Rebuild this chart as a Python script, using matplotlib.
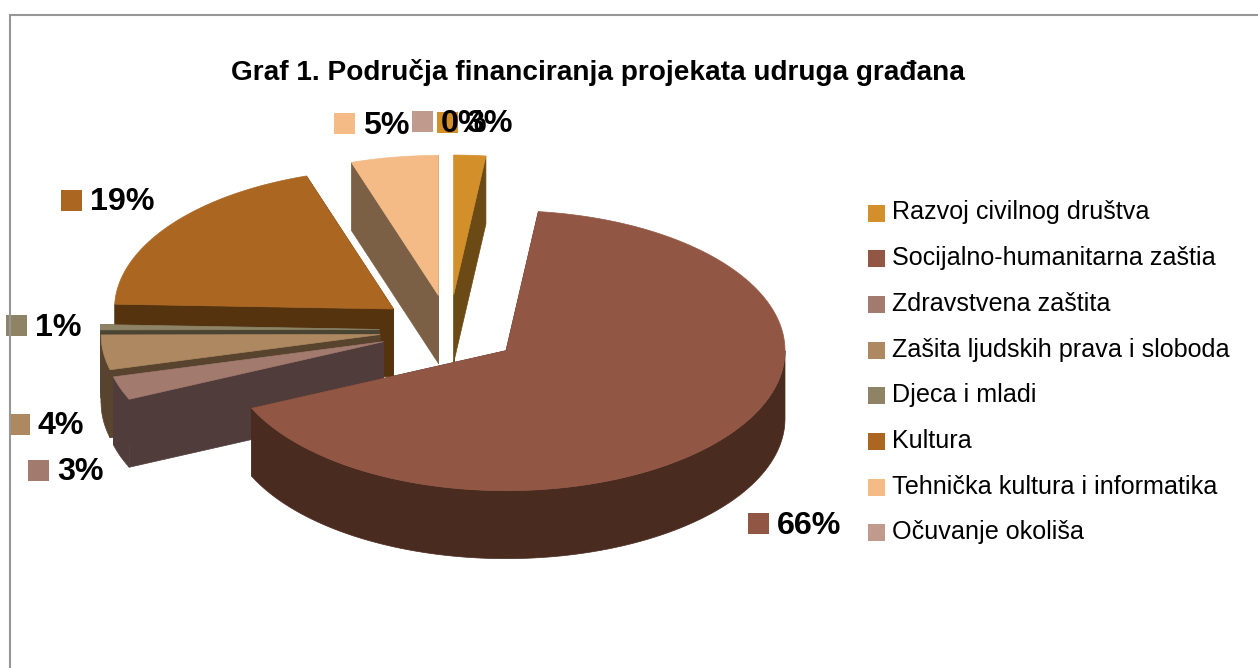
import numpy as np
import matplotlib
matplotlib.use("Agg")
import matplotlib.pyplot as plt
from matplotlib.patches import Polygon, Rectangle

plt.rcParams['font.family'] = ['Liberation Sans', 'DejaVu Sans']

title = "Graf 1. Područja financiranja projekata udruga građana"
categories = ["Razvoj civilnog društva", "Socijalno-humanitarna zaštia", "Zdravstvena zaštita",
              "Zašita ljudskih prava i sloboda", "Djeca i mladi", "Kultura",
              "Tehnička kultura i informatika", "Očuvanje okoliša"]
values = [1.85, 66.4, 2.7, 4.0, 0.6, 19.4, 5.05, 0.0]
value_labels = ["3%", "66%", "3%", "4%", "1%", "19%", "5%", "0%"]
top_colors = ["#d38f2a", "#925744", "#a27a6e", "#ad8860", "#8e8465", "#ab6722", "#f4bb87", "#bf9a8d"]
wall_colors = ["#6b4a15", "#4a2b20", "#503c3a", "#58442e", "#4a4433", "#56330f", "#7c6045", "#5f4a45"]

W, H = 1258, 668
CX, CY, RX, RY, DEPTH, EXPLODE = 449.5, 330, 279, 140, 68, 70
label_pos = [(437, 112), (748, 513), (28, 460), (9, 414), (6, 315), (61, 190), (334, 113), (412, 111)]

fig = plt.figure(figsize=(W / 100, H / 100), dpi=100)
ax = fig.add_axes([0, 0, 1, 1])
ax.set_xlim(0, W)
ax.set_ylim(H, 0)
ax.axis("off")

ax.plot([10, 10, W], [H, 14.5, 14.5], color="#969696", lw=1.5, solid_joinstyle="miter")


def rim(ox, oy, a, b, n=160):
    t = np.radians(np.linspace(a, b, n))
    return np.column_stack([ox + RX * np.sin(t), oy - RY * np.cos(t)])


edges = np.cumsum([0] + values)[:-1] * 3.6
slices = []
for i, v in enumerate(values):
    if v <= 0:
        continue
    a, b = edges[i], edges[i] + v * 3.6
    mid = np.radians((a + b) / 2)
    ox = CX + EXPLODE * np.sin(mid)
    oy = CY - EXPLODE * 0.5 * np.cos(mid)
    slices.append((oy, ox, a, b, i))

down = np.array([0, DEPTH])
for oy, ox, a, b, i in sorted(slices):
    apex = np.array([ox, oy])
    arc = rim(ox, oy, a, b)
    wall = wall_colors[i]
    # cut faces
    for p in (arc[-1], arc[0]):
        ax.add_patch(Polygon([apex, p, p + down, apex + down], fc=wall, ec=wall, lw=0.5))
    # outer face, front half only
    fa, fb = max(a, 90), min(b, 270)
    if fb > fa:
        front = rim(ox, oy, fa, fb)
        ax.add_patch(Polygon(np.vstack([front, (front + down)[::-1]]), fc=wall, ec=wall, lw=0.5))
    ax.add_patch(Polygon(np.vstack([apex, arc]), fc=top_colors[i], ec=top_colors[i], lw=0.5))

ax.text(597.5, 80.5, title, fontsize=20.2, fontweight="bold", ha="center", va="baseline", color="black")

# legend
for i, (name, col) in enumerate(zip(categories, top_colors)):
    y = 213 + i * 45.7
    ax.add_patch(Rectangle((868, y - 8.5), 17, 17, fc=col, ec="none"))
    ax.text(892, y + 6.5, name, fontsize=18.1, ha="left", va="baseline", color="black")

# data labels
for (x, y), lab, col in zip(label_pos, value_labels, top_colors):
    ax.add_patch(Rectangle((x, y), 21, 21, fc=col, ec="none"))
    ax.text(x + 29, y + 20.5, lab, fontsize=23.2, fontweight="bold", ha="left", va="baseline", color="black", zorder=5)

fig.savefig("out.png", dpi=100, facecolor="white")
